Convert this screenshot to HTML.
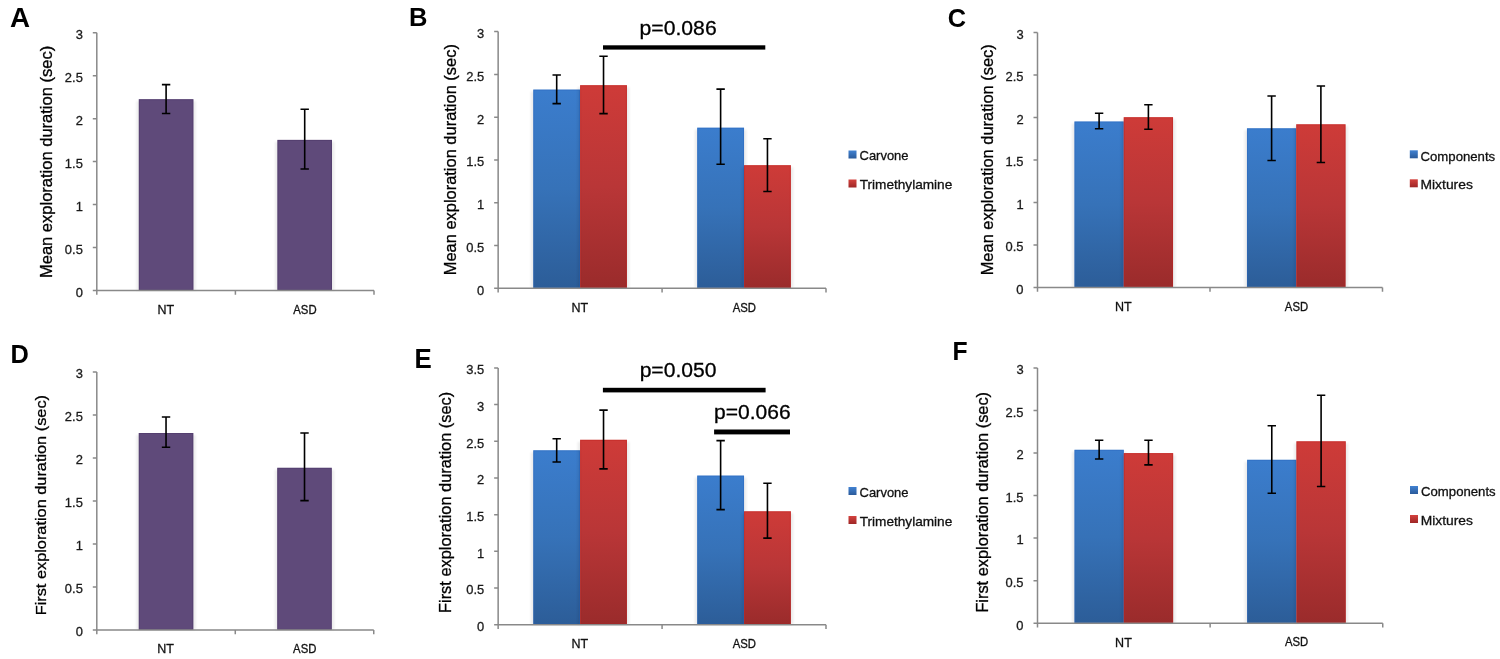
<!DOCTYPE html><html><head><meta charset="utf-8"><title>Figure</title><style>html,body{margin:0;padding:0;background:#fff;width:1500px;height:659px;overflow:hidden}svg{display:block;will-change:transform}text{font-family:"Liberation Sans",sans-serif;stroke-width:0.3px;vector-effect:non-scaling-stroke}</style></head><body>
<svg width="1500" height="659" viewBox="0 0 1500 659">
<defs>
<linearGradient id="gb" x1="0" y1="0" x2="0" y2="1"><stop offset="0" stop-color="#3b7dcd"/><stop offset="0.5" stop-color="#3672b8"/><stop offset="1" stop-color="#2c5d98"/></linearGradient>
<linearGradient id="gr" x1="0" y1="0" x2="0" y2="1"><stop offset="0" stop-color="#ce3b38"/><stop offset="0.5" stop-color="#b93637"/><stop offset="1" stop-color="#9a2b2b"/></linearGradient>
<linearGradient id="lb" x1="0" y1="0" x2="0" y2="1"><stop offset="0" stop-color="#4182d2"/><stop offset="1" stop-color="#2a5a9a"/></linearGradient>
<linearGradient id="lr" x1="0" y1="0" x2="0" y2="1"><stop offset="0" stop-color="#d4423e"/><stop offset="1" stop-color="#9e2626"/></linearGradient>
<filter id="sh" x="-20%" y="-5%" width="140%" height="110%"><feGaussianBlur stdDeviation="1.3"/></filter>
</defs>
<rect width="1500" height="659" fill="#fff"/>
<rect x="136.31654" y="101.2" width="59.56693" height="189.26" fill="#000" opacity="0.07" filter="url(#sh)"/>
<rect x="138.81654" y="99.2" width="54.56693" height="191.26" fill="#5f4a7a"/>
<rect x="139.31654" y="99.7" width="53.56693" height="190.26" fill="none" stroke="#4a3263" stroke-opacity="0.45" stroke-width="1"/>
<rect x="274.91654" y="141.9" width="59.56693" height="148.56" fill="#000" opacity="0.07" filter="url(#sh)"/>
<rect x="277.41654" y="139.9" width="54.56693" height="150.56" fill="#5f4a7a"/>
<rect x="277.91654" y="140.4" width="53.56693" height="149.56" fill="none" stroke="#4a3263" stroke-opacity="0.45" stroke-width="1"/>
<path d="M96.8 32.74V290.46M92.8 290.46H374" stroke="#898989" stroke-width="1.5" fill="none"/>
<path d="M92.8 247.50667H96.8M92.8 204.55333H96.8M92.8 161.6H96.8M92.8 118.64667H96.8M92.8 75.69333H96.8M92.8 32.74H96.8M96.8 290.46V294.76M235.4 290.46V294.76M374 290.46V294.76" stroke="#898989" stroke-width="1.5" fill="none"/>
<path d="M166.1 84.6V113.5M161.9 84.6H170.3M161.9 113.5H170.3" stroke="#000" stroke-width="1.6" fill="none"/>
<path d="M304.7 109.2V169M300.5 109.2H308.9M300.5 169H308.9" stroke="#000" stroke-width="1.6" fill="none"/>
<text transform="translate(10.00597,26.8) scale(0.27761,0.26957)" font-size="100" font-weight="bold" fill="#000">A</text>
<text transform="translate(51.7,278.02184) rotate(-90) scale(0.16523,0.16377)" font-size="100" fill="#000" stroke="#000">Mean exploration duration (sec)</text>
<text transform="translate(75.64462,296.83042) scale(0.12923,0.12958)" font-size="100" fill="#1a1a1a" stroke="#1a1a1a">0</text>
<text transform="translate(64.85385,253.87709) scale(0.12923,0.12958)" font-size="100" fill="#1a1a1a" stroke="#1a1a1a">0.5</text>
<text transform="translate(75.77385,210.92376) scale(0.12923,0.12958)" font-size="100" fill="#1a1a1a" stroke="#1a1a1a">1</text>
<text transform="translate(64.85385,167.97042) scale(0.12923,0.12958)" font-size="100" fill="#1a1a1a" stroke="#1a1a1a">1.5</text>
<text transform="translate(75.77385,125.01709) scale(0.12923,0.12958)" font-size="100" fill="#1a1a1a" stroke="#1a1a1a">2</text>
<text transform="translate(64.85385,82.06376) scale(0.12923,0.12958)" font-size="100" fill="#1a1a1a" stroke="#1a1a1a">2.5</text>
<text transform="translate(75.70923,39.11042) scale(0.12923,0.12958)" font-size="100" fill="#1a1a1a" stroke="#1a1a1a">3</text>
<text transform="translate(157.39837,313.86) scale(0.1252,0.12609)" font-size="100" fill="#111" stroke="#111">NT</text>
<text transform="translate(293.29339,313.73746) scale(0.11322,0.12254)" font-size="100" fill="#111" stroke="#111">ASD</text>
<rect x="530.77679" y="91.6" width="51.83571" height="196.7" fill="#000" opacity="0.07" filter="url(#sh)"/>
<rect x="533.27679" y="89.6" width="46.83571" height="198.7" fill="url(#gb)"/>
<rect x="533.77679" y="90.1" width="45.83571" height="197.7" fill="none" stroke="#2a66bf" stroke-opacity="0.45" stroke-width="1"/>
<rect x="577.6125" y="87.2" width="51.83571" height="201.1" fill="#000" opacity="0.07" filter="url(#sh)"/>
<rect x="580.1125" y="85.2" width="46.83571" height="203.1" fill="url(#gr)"/>
<rect x="580.6125" y="85.7" width="45.83571" height="202.1" fill="none" stroke="#c0221f" stroke-opacity="0.45" stroke-width="1"/>
<rect x="694.70179" y="129.7" width="51.83571" height="158.6" fill="#000" opacity="0.07" filter="url(#sh)"/>
<rect x="697.20179" y="127.7" width="46.83571" height="160.6" fill="url(#gb)"/>
<rect x="697.70179" y="128.2" width="45.83571" height="159.6" fill="none" stroke="#2a66bf" stroke-opacity="0.45" stroke-width="1"/>
<rect x="741.5375" y="167.2" width="51.83571" height="121.1" fill="#000" opacity="0.07" filter="url(#sh)"/>
<rect x="744.0375" y="165.2" width="46.83571" height="123.1" fill="url(#gr)"/>
<rect x="744.5375" y="165.7" width="45.83571" height="122.1" fill="none" stroke="#c0221f" stroke-opacity="0.45" stroke-width="1"/>
<path d="M498.15 31.6V288.3M494.15 288.3H826" stroke="#898989" stroke-width="1.5" fill="none"/>
<path d="M494.15 245.51667H498.15M494.15 202.73333H498.15M494.15 159.95H498.15M494.15 117.16667H498.15M494.15 74.38333H498.15M494.15 31.6H498.15M498.15 288.3V292.6M662.075 288.3V292.6M826 288.3V292.6" stroke="#898989" stroke-width="1.5" fill="none"/>
<path d="M556.69464 75V103.6M552.49464 75H560.89464M552.49464 103.6H560.89464" stroke="#000" stroke-width="1.6" fill="none"/>
<path d="M603.53036 56.2V113.6M599.33036 56.2H607.73036M599.33036 113.6H607.73036" stroke="#000" stroke-width="1.6" fill="none"/>
<path d="M720.61964 89.1V164.2M716.41964 89.1H724.81964M716.41964 164.2H724.81964" stroke="#000" stroke-width="1.6" fill="none"/>
<path d="M767.45536 138.7V191.5M763.25536 138.7H771.65536M763.25536 191.5H771.65536" stroke="#000" stroke-width="1.6" fill="none"/>
<text transform="translate(409.0377,25.8) scale(0.25574,0.25507)" font-size="100" font-weight="bold" fill="#000">B</text>
<text transform="translate(456.4,275.31552) rotate(-90) scale(0.16444,0.16377)" font-size="100" fill="#000" stroke="#000">Mean exploration duration (sec)</text>
<text transform="translate(476.99462,294.67042) scale(0.12923,0.12958)" font-size="100" fill="#1a1a1a" stroke="#1a1a1a">0</text>
<text transform="translate(466.20385,251.88709) scale(0.12923,0.12958)" font-size="100" fill="#1a1a1a" stroke="#1a1a1a">0.5</text>
<text transform="translate(477.12385,209.10376) scale(0.12923,0.12958)" font-size="100" fill="#1a1a1a" stroke="#1a1a1a">1</text>
<text transform="translate(466.20385,166.32042) scale(0.12923,0.12958)" font-size="100" fill="#1a1a1a" stroke="#1a1a1a">1.5</text>
<text transform="translate(477.12385,123.53709) scale(0.12923,0.12958)" font-size="100" fill="#1a1a1a" stroke="#1a1a1a">2</text>
<text transform="translate(466.20385,80.75376) scale(0.12923,0.12958)" font-size="100" fill="#1a1a1a" stroke="#1a1a1a">2.5</text>
<text transform="translate(477.05923,37.97042) scale(0.12923,0.12958)" font-size="100" fill="#1a1a1a" stroke="#1a1a1a">3</text>
<text transform="translate(571.41087,311.7) scale(0.1252,0.12609)" font-size="100" fill="#111" stroke="#111">NT</text>
<text transform="translate(732.63089,311.57746) scale(0.11322,0.12254)" font-size="100" fill="#111" stroke="#111">ASD</text>
<rect x="848.5" y="150.5" width="8" height="8" fill="url(#lb)"/>
<text transform="translate(859.55142,160.06479) scale(0.12972,0.13521)" font-size="100" fill="#111" stroke="#111">Carvone</text>
<rect x="848.5" y="179.5" width="8" height="8" fill="url(#lr)"/>
<text transform="translate(859.65899,188.8) scale(0.1364,0.13043)" font-size="100" fill="#111" stroke="#111">Trimethylamine</text>
<rect x="1071.96429" y="123.5" width="54.28571" height="164" fill="#000" opacity="0.07" filter="url(#sh)"/>
<rect x="1074.46429" y="121.5" width="49.28571" height="166" fill="url(#gb)"/>
<rect x="1074.96429" y="122" width="48.28571" height="165" fill="none" stroke="#2a66bf" stroke-opacity="0.45" stroke-width="1"/>
<rect x="1121.25" y="119.2" width="54.28571" height="168.3" fill="#000" opacity="0.07" filter="url(#sh)"/>
<rect x="1123.75" y="117.2" width="49.28571" height="170.3" fill="url(#gr)"/>
<rect x="1124.25" y="117.7" width="48.28571" height="169.3" fill="none" stroke="#c0221f" stroke-opacity="0.45" stroke-width="1"/>
<rect x="1244.46429" y="130.3" width="54.28571" height="157.2" fill="#000" opacity="0.07" filter="url(#sh)"/>
<rect x="1246.96429" y="128.3" width="49.28571" height="159.2" fill="url(#gb)"/>
<rect x="1247.46429" y="128.8" width="48.28571" height="158.2" fill="none" stroke="#2a66bf" stroke-opacity="0.45" stroke-width="1"/>
<rect x="1293.75" y="126.3" width="54.28571" height="161.2" fill="#000" opacity="0.07" filter="url(#sh)"/>
<rect x="1296.25" y="124.3" width="49.28571" height="163.2" fill="url(#gr)"/>
<rect x="1296.75" y="124.8" width="48.28571" height="162.2" fill="none" stroke="#c0221f" stroke-opacity="0.45" stroke-width="1"/>
<path d="M1037.5 32.6V287.5M1033.5 287.5H1382.5" stroke="#898989" stroke-width="1.5" fill="none"/>
<path d="M1033.5 245.01667H1037.5M1033.5 202.53333H1037.5M1033.5 160.05H1037.5M1033.5 117.56667H1037.5M1033.5 75.08333H1037.5M1033.5 32.6H1037.5M1037.5 287.5V291.8M1210 287.5V291.8M1382.5 287.5V291.8" stroke="#898989" stroke-width="1.5" fill="none"/>
<path d="M1099.10714 113.2V128.8M1094.90714 113.2H1103.30714M1094.90714 128.8H1103.30714" stroke="#000" stroke-width="1.6" fill="none"/>
<path d="M1148.39286 104.8V129.2M1144.19286 104.8H1152.59286M1144.19286 129.2H1152.59286" stroke="#000" stroke-width="1.6" fill="none"/>
<path d="M1271.60714 96V160.5M1267.40714 96H1275.80714M1267.40714 160.5H1275.80714" stroke="#000" stroke-width="1.6" fill="none"/>
<path d="M1320.89286 86V162.5M1316.69286 86H1325.09286M1316.69286 162.5H1325.09286" stroke="#000" stroke-width="1.6" fill="none"/>
<text transform="translate(947.68626,27.03803) scale(0.25344,0.26197)" font-size="100" font-weight="bold" fill="#000">C</text>
<text transform="translate(992.6,275.31552) rotate(-90) scale(0.16444,0.15797)" font-size="100" fill="#000" stroke="#000">Mean exploration duration (sec)</text>
<text transform="translate(1016.34462,293.87042) scale(0.12923,0.12958)" font-size="100" fill="#1a1a1a" stroke="#1a1a1a">0</text>
<text transform="translate(1005.55385,251.38709) scale(0.12923,0.12958)" font-size="100" fill="#1a1a1a" stroke="#1a1a1a">0.5</text>
<text transform="translate(1016.47385,208.90376) scale(0.12923,0.12958)" font-size="100" fill="#1a1a1a" stroke="#1a1a1a">1</text>
<text transform="translate(1005.55385,166.42042) scale(0.12923,0.12958)" font-size="100" fill="#1a1a1a" stroke="#1a1a1a">1.5</text>
<text transform="translate(1016.47385,123.93709) scale(0.12923,0.12958)" font-size="100" fill="#1a1a1a" stroke="#1a1a1a">2</text>
<text transform="translate(1005.55385,81.45376) scale(0.12923,0.12958)" font-size="100" fill="#1a1a1a" stroke="#1a1a1a">2.5</text>
<text transform="translate(1016.40923,38.97042) scale(0.12923,0.12958)" font-size="100" fill="#1a1a1a" stroke="#1a1a1a">3</text>
<text transform="translate(1115.04837,310.9) scale(0.1252,0.12609)" font-size="100" fill="#111" stroke="#111">NT</text>
<text transform="translate(1284.84339,310.77746) scale(0.11322,0.12254)" font-size="100" fill="#111" stroke="#111">ASD</text>
<rect x="1409.8" y="150.3" width="8" height="8" fill="url(#lb)"/>
<text transform="translate(1420.54109,160.66761) scale(0.13178,0.13239)" font-size="100" fill="#111" stroke="#111">Components</text>
<rect x="1409.8" y="179.3" width="8" height="8" fill="url(#lr)"/>
<text transform="translate(1420.48962,189) scale(0.1388,0.13043)" font-size="100" fill="#111" stroke="#111">Mixtures</text>
<rect x="136.27864" y="435" width="59.51772" height="194.95" fill="#000" opacity="0.07" filter="url(#sh)"/>
<rect x="138.77864" y="433" width="54.51772" height="196.95" fill="#5f4a7a"/>
<rect x="139.27864" y="433.5" width="53.51772" height="195.95" fill="none" stroke="#4a3263" stroke-opacity="0.45" stroke-width="1"/>
<rect x="274.75364" y="469.8" width="59.51772" height="160.15" fill="#000" opacity="0.07" filter="url(#sh)"/>
<rect x="277.25364" y="467.8" width="54.51772" height="162.15" fill="#5f4a7a"/>
<rect x="277.75364" y="468.3" width="53.51772" height="161.15" fill="none" stroke="#4a3263" stroke-opacity="0.45" stroke-width="1"/>
<path d="M96.8 372V629.95M92.8 629.95H373.75" stroke="#898989" stroke-width="1.5" fill="none"/>
<path d="M92.8 586.95833H96.8M92.8 543.96667H96.8M92.8 500.975H96.8M92.8 457.98333H96.8M92.8 414.99167H96.8M92.8 372H96.8M96.8 629.95V634.25M235.275 629.95V634.25M373.75 629.95V634.25" stroke="#898989" stroke-width="1.5" fill="none"/>
<path d="M166.0375 417V447.3M161.8375 417H170.2375M161.8375 447.3H170.2375" stroke="#000" stroke-width="1.6" fill="none"/>
<path d="M304.5125 433V500.6M300.3125 433H308.7125M300.3125 500.6H308.7125" stroke="#000" stroke-width="1.6" fill="none"/>
<text transform="translate(10.55122,362.8) scale(0.25366,0.26232)" font-size="100" font-weight="bold" fill="#000">D</text>
<text transform="translate(45.8,615.3061) rotate(-90) scale(0.16326,0.15507)" font-size="100" fill="#000" stroke="#000">First exploration duration (sec)</text>
<text transform="translate(75.64462,636.32042) scale(0.12923,0.12958)" font-size="100" fill="#1a1a1a" stroke="#1a1a1a">0</text>
<text transform="translate(64.85385,593.32876) scale(0.12923,0.12958)" font-size="100" fill="#1a1a1a" stroke="#1a1a1a">0.5</text>
<text transform="translate(75.77385,550.33709) scale(0.12923,0.12958)" font-size="100" fill="#1a1a1a" stroke="#1a1a1a">1</text>
<text transform="translate(64.85385,507.34542) scale(0.12923,0.12958)" font-size="100" fill="#1a1a1a" stroke="#1a1a1a">1.5</text>
<text transform="translate(75.77385,464.35376) scale(0.12923,0.12958)" font-size="100" fill="#1a1a1a" stroke="#1a1a1a">2</text>
<text transform="translate(64.85385,421.36209) scale(0.12923,0.12958)" font-size="100" fill="#1a1a1a" stroke="#1a1a1a">2.5</text>
<text transform="translate(75.70923,378.37042) scale(0.12923,0.12958)" font-size="100" fill="#1a1a1a" stroke="#1a1a1a">3</text>
<text transform="translate(157.33587,653.35) scale(0.1252,0.12609)" font-size="100" fill="#111" stroke="#111">NT</text>
<text transform="translate(293.10589,653.22746) scale(0.11322,0.12254)" font-size="100" fill="#111" stroke="#111">ASD</text>
<rect x="530.77679" y="452.3" width="51.83571" height="172.45" fill="#000" opacity="0.07" filter="url(#sh)"/>
<rect x="533.27679" y="450.3" width="46.83571" height="174.45" fill="url(#gb)"/>
<rect x="533.77679" y="450.8" width="45.83571" height="173.45" fill="none" stroke="#2a66bf" stroke-opacity="0.45" stroke-width="1"/>
<rect x="577.6125" y="441.8" width="51.83571" height="182.95" fill="#000" opacity="0.07" filter="url(#sh)"/>
<rect x="580.1125" y="439.8" width="46.83571" height="184.95" fill="url(#gr)"/>
<rect x="580.6125" y="440.3" width="45.83571" height="183.95" fill="none" stroke="#c0221f" stroke-opacity="0.45" stroke-width="1"/>
<rect x="694.70179" y="477.6" width="51.83571" height="147.15" fill="#000" opacity="0.07" filter="url(#sh)"/>
<rect x="697.20179" y="475.6" width="46.83571" height="149.15" fill="url(#gb)"/>
<rect x="697.70179" y="476.1" width="45.83571" height="148.15" fill="none" stroke="#2a66bf" stroke-opacity="0.45" stroke-width="1"/>
<rect x="741.5375" y="513.3" width="51.83571" height="111.45" fill="#000" opacity="0.07" filter="url(#sh)"/>
<rect x="744.0375" y="511.3" width="46.83571" height="113.45" fill="url(#gr)"/>
<rect x="744.5375" y="511.8" width="45.83571" height="112.45" fill="none" stroke="#c0221f" stroke-opacity="0.45" stroke-width="1"/>
<path d="M498.15 367.9V624.75M494.15 624.75H826" stroke="#898989" stroke-width="1.5" fill="none"/>
<path d="M494.15 588.05714H498.15M494.15 551.36429H498.15M494.15 514.67143H498.15M494.15 477.97857H498.15M494.15 441.28571H498.15M494.15 404.59286H498.15M494.15 367.9H498.15M498.15 624.75V629.05M662.075 624.75V629.05M826 624.75V629.05" stroke="#898989" stroke-width="1.5" fill="none"/>
<path d="M556.69464 438.7V462M552.49464 438.7H560.89464M552.49464 462H560.89464" stroke="#000" stroke-width="1.6" fill="none"/>
<path d="M603.53036 410.1V468.9M599.33036 410.1H607.73036M599.33036 468.9H607.73036" stroke="#000" stroke-width="1.6" fill="none"/>
<path d="M720.61964 440.6V509.6M716.41964 440.6H724.81964M716.41964 509.6H724.81964" stroke="#000" stroke-width="1.6" fill="none"/>
<path d="M767.45536 483.3V538.1M763.25536 483.3H771.65536M763.25536 538.1H771.65536" stroke="#000" stroke-width="1.6" fill="none"/>
<text transform="translate(414.52035,368.3) scale(0.25841,0.26957)" font-size="100" font-weight="bold" fill="#000">E</text>
<text transform="translate(450.8,613.01089) rotate(-90) scale(0.16386,0.16377)" font-size="100" fill="#000" stroke="#000">First exploration duration (sec)</text>
<text transform="translate(476.99462,631.12042) scale(0.12923,0.12958)" font-size="100" fill="#1a1a1a" stroke="#1a1a1a">0</text>
<text transform="translate(466.20385,594.42757) scale(0.12923,0.12958)" font-size="100" fill="#1a1a1a" stroke="#1a1a1a">0.5</text>
<text transform="translate(477.12385,557.73471) scale(0.12923,0.12958)" font-size="100" fill="#1a1a1a" stroke="#1a1a1a">1</text>
<text transform="translate(466.20385,521.04185) scale(0.12923,0.12958)" font-size="100" fill="#1a1a1a" stroke="#1a1a1a">1.5</text>
<text transform="translate(477.12385,484.34899) scale(0.12923,0.12958)" font-size="100" fill="#1a1a1a" stroke="#1a1a1a">2</text>
<text transform="translate(466.20385,447.65614) scale(0.12923,0.12958)" font-size="100" fill="#1a1a1a" stroke="#1a1a1a">2.5</text>
<text transform="translate(477.05923,410.96328) scale(0.12923,0.12958)" font-size="100" fill="#1a1a1a" stroke="#1a1a1a">3</text>
<text transform="translate(466.20385,374.27042) scale(0.12923,0.12958)" font-size="100" fill="#1a1a1a" stroke="#1a1a1a">3.5</text>
<text transform="translate(571.41087,648.15) scale(0.1252,0.12609)" font-size="100" fill="#111" stroke="#111">NT</text>
<text transform="translate(732.63089,648.02746) scale(0.11322,0.12254)" font-size="100" fill="#111" stroke="#111">ASD</text>
<rect x="848.5" y="487" width="8" height="8" fill="url(#lb)"/>
<text transform="translate(859.55142,496.86479) scale(0.12972,0.13521)" font-size="100" fill="#111" stroke="#111">Carvone</text>
<rect x="848.5" y="516" width="8" height="8" fill="url(#lr)"/>
<text transform="translate(859.65899,525.6) scale(0.1364,0.13043)" font-size="100" fill="#111" stroke="#111">Trimethylamine</text>
<rect x="1071.99107" y="451.8" width="54.32143" height="171.4" fill="#000" opacity="0.07" filter="url(#sh)"/>
<rect x="1074.49107" y="449.8" width="49.32143" height="173.4" fill="url(#gb)"/>
<rect x="1074.99107" y="450.3" width="48.32143" height="172.4" fill="none" stroke="#2a66bf" stroke-opacity="0.45" stroke-width="1"/>
<rect x="1121.3125" y="455.1" width="54.32143" height="168.1" fill="#000" opacity="0.07" filter="url(#sh)"/>
<rect x="1123.8125" y="453.1" width="49.32143" height="170.1" fill="url(#gr)"/>
<rect x="1124.3125" y="453.6" width="48.32143" height="169.1" fill="none" stroke="#c0221f" stroke-opacity="0.45" stroke-width="1"/>
<rect x="1244.61607" y="461.8" width="54.32143" height="161.4" fill="#000" opacity="0.07" filter="url(#sh)"/>
<rect x="1247.11607" y="459.8" width="49.32143" height="163.4" fill="url(#gb)"/>
<rect x="1247.61607" y="460.3" width="48.32143" height="162.4" fill="none" stroke="#2a66bf" stroke-opacity="0.45" stroke-width="1"/>
<rect x="1293.9375" y="443.3" width="54.32143" height="179.9" fill="#000" opacity="0.07" filter="url(#sh)"/>
<rect x="1296.4375" y="441.3" width="49.32143" height="181.9" fill="url(#gr)"/>
<rect x="1296.9375" y="441.8" width="48.32143" height="180.9" fill="none" stroke="#c0221f" stroke-opacity="0.45" stroke-width="1"/>
<path d="M1037.5 367.9V623.2M1033.5 623.2H1382.75" stroke="#898989" stroke-width="1.5" fill="none"/>
<path d="M1033.5 580.65H1037.5M1033.5 538.1H1037.5M1033.5 495.55H1037.5M1033.5 453H1037.5M1033.5 410.45H1037.5M1033.5 367.9H1037.5M1037.5 623.2V627.5M1210.125 623.2V627.5M1382.75 623.2V627.5" stroke="#898989" stroke-width="1.5" fill="none"/>
<path d="M1099.15179 440.3V459M1094.95179 440.3H1103.35179M1094.95179 459H1103.35179" stroke="#000" stroke-width="1.6" fill="none"/>
<path d="M1148.47321 440.3V464.9M1144.27321 440.3H1152.67321M1144.27321 464.9H1152.67321" stroke="#000" stroke-width="1.6" fill="none"/>
<path d="M1271.77679 425.8V493.3M1267.57679 425.8H1275.97679M1267.57679 493.3H1275.97679" stroke="#000" stroke-width="1.6" fill="none"/>
<path d="M1321.09821 395.2V486.5M1316.89821 395.2H1325.29821M1316.89821 486.5H1325.29821" stroke="#000" stroke-width="1.6" fill="none"/>
<text transform="translate(952.59412,359.8) scale(0.24706,0.26232)" font-size="100" font-weight="bold" fill="#000">F</text>
<text transform="translate(987.6,612.60849) rotate(-90) scale(0.16356,0.15797)" font-size="100" fill="#000" stroke="#000">First exploration duration (sec)</text>
<text transform="translate(1016.34462,629.57042) scale(0.12923,0.12958)" font-size="100" fill="#1a1a1a" stroke="#1a1a1a">0</text>
<text transform="translate(1005.55385,587.02042) scale(0.12923,0.12958)" font-size="100" fill="#1a1a1a" stroke="#1a1a1a">0.5</text>
<text transform="translate(1016.47385,544.47042) scale(0.12923,0.12958)" font-size="100" fill="#1a1a1a" stroke="#1a1a1a">1</text>
<text transform="translate(1005.55385,501.92042) scale(0.12923,0.12958)" font-size="100" fill="#1a1a1a" stroke="#1a1a1a">1.5</text>
<text transform="translate(1016.47385,459.37042) scale(0.12923,0.12958)" font-size="100" fill="#1a1a1a" stroke="#1a1a1a">2</text>
<text transform="translate(1005.55385,416.82042) scale(0.12923,0.12958)" font-size="100" fill="#1a1a1a" stroke="#1a1a1a">2.5</text>
<text transform="translate(1016.40923,374.27042) scale(0.12923,0.12958)" font-size="100" fill="#1a1a1a" stroke="#1a1a1a">3</text>
<text transform="translate(1115.11087,646.6) scale(0.1252,0.12609)" font-size="100" fill="#111" stroke="#111">NT</text>
<text transform="translate(1285.03089,646.47746) scale(0.11322,0.12254)" font-size="100" fill="#111" stroke="#111">ASD</text>
<rect x="1410" y="486" width="8" height="8" fill="url(#lb)"/>
<text transform="translate(1421.04109,495.86901) scale(0.13178,0.13099)" font-size="100" fill="#111" stroke="#111">Components</text>
<rect x="1410" y="515" width="8" height="8" fill="url(#lr)"/>
<text transform="translate(1420.69399,524.8) scale(0.13825,0.13043)" font-size="100" fill="#111" stroke="#111">Mixtures</text>
<rect x="603.0" y="45.3" width="162.3" height="4.3" fill="#000"/>
<text transform="translate(639.52277,34.5) scale(0.21188,0.20857)" font-size="100" fill="#000" stroke="#000">p=0.086</text>
<rect x="602.9" y="387.8" width="162.7" height="4.6" fill="#000"/>
<text transform="translate(639.62655,377) scale(0.2113,0.20429)" font-size="100" fill="#000" stroke="#000">p=0.050</text>
<rect x="714.1" y="429.5" width="75.9" height="4.9" fill="#000"/>
<text transform="translate(714.03197,419) scale(0.21047,0.20429)" font-size="100" fill="#000" stroke="#000">p=0.066</text>
</svg></body></html>
